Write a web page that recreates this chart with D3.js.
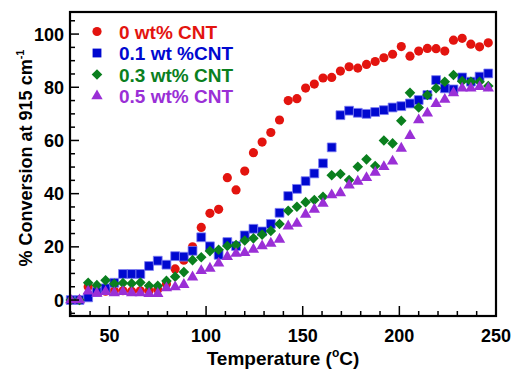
<!DOCTYPE html>
<html>
<head>
<meta charset="utf-8">
<script src="https://d3js.org/d3.v7.min.js"></script>
<style>
  body { margin: 0; background: #fff; }
  svg text { font-family: "Liberation Sans", Arial, sans-serif; font-weight: bold; }
</style>
</head>
<body>
<script>
// temperatures (C)
var temps = [30, 34.5, 39, 43.5, 48, 52.5, 57, 61.5, 66, 70.5, 75, 79.5, 84, 88.5, 93, 97.5,
  102, 106.5, 111, 115.5, 120, 124.5, 129, 133.5, 138, 142.5, 147, 151.5, 156, 160.5,
  165, 169.5, 174, 178.5, 183, 187.5, 192, 196.5, 201, 205.5, 210, 214.5, 219, 223.5,
  228, 232.5, 237, 241.5, 246];

// % conversion for each CNT loading
var cnt0 = [0, 0, 5, 3.8, 3.3, 3.5, 3.5, 3.3, 3.5, 3.5, 4, 6, 11.7, 15, 20, 27.3, 32.6, 34.1, 46, 41.4,
  48.5, 55.4, 59.4, 63, 67.7, 75, 75.7, 79.7, 81.2, 83.5, 83.7, 86.1, 87.7, 87.2, 88.6, 89.7, 91.1, 92.4,
  95.3, 91.7, 93.6, 94.6, 94.5, 93.6, 97.7, 98.4, 96.2, 95.2, 96.7];
var cnt01 = [0, 0, 1, 3, 4.4, 6.5, 9.8, 9.8, 9.8, 12.8, 14.8, 13.3, 16.5, 16.3, 18.5, 23.6, 20.2, 17, 21.8,
  20.3, 24.3, 26.8, 25.8, 28.6, 32.8, 39.1, 41.8, 44.7, 47.6, 51.4, 57.4, 69.5, 71.2, 70.4, 70, 70.7, 71.4,
  72.4, 72.9, 73.9, 75.2, 77.1, 82.7, 79.6, 79.2, 83.7, 82.1, 84, 85.2];
var cnt03 = [0, 0, 6.5, 5.6, 7.4, 6.1, 6.4, 6.2, 6.6, 5.4, 5.4, 7.2, 8.8, 10.5, 15, 16.1, 18.4, 18.9, 20.3,
  20.7, 22.4, 23.2, 24.6, 26, 28.6, 33.6, 35.1, 36.8, 37.6, 38.8, 46.9, 47.4, 45.1, 50.1, 52.9, 50.4, 60,
  58.9, 67.4, 77.9, 72.4, 77.1, 79.6, 82.1, 84.6, 82.3, 82.1, 82.1, 80.5];
var cnt05 = [0, 0, 3.3, 2.5, 3.1, 2.7, 3.1, 2.7, 2.7, 2.4, 2.4, 4.5, 4.9, 5.8, 8.6, 11, 11.9, 13.8, 16.3,
  17.5, 17.8, 19, 20.3, 21.3, 22.8, 27.8, 28.8, 32.2, 34.1, 36.3, 39.5, 40.3, 43.2, 44.6, 46, 48, 50.1,
  52.2, 57, 61.8, 67.7, 70.2, 73.8, 75.4, 77.9, 79.6, 79.6, 80.2, 79.6];

var seriesNames = ["0 wt% CNT", "0.1 wt %CNT", "0.3 wt% CNT", "0.5 wt% CNT"];
var xTicks = [50, 100, 150, 200, 250];
var yTicks = [0, 20, 40, 60, 80, 100];

var width = 513, height = 369;
var margin = {top: 12, right: 17, bottom: 53, left: 70};

var svg = d3.select("body").append("svg")
    .attr("width", width)
    .attr("height", height);

var x = d3.scaleLinear().domain([29.6, 250]).range([margin.left, width - margin.right]);
var y = d3.scaleLinear().domain([-6, 108.3]).range([height - margin.bottom, margin.top]);

var series = [
  {name: seriesNames[0], values: cnt0, color: "#e3140f", shape: d3.symbolCircle, size: 66, rot: 0},
  {name: seriesNames[1], values: cnt01, color: "#0008d0", shape: d3.symbolSquare, size: 78, rot: 0, stroke: "#7d7df2"},
  {name: seriesNames[2], values: cnt03, color: "#0a7f1e", shape: d3.symbolSquare, size: 56, rot: 45},
  {name: seriesNames[3], values: cnt05, color: "#9a2fd6", shape: d3.symbolTriangle, size: 56, rot: 0}
];

// points
series.forEach(function (s) {
  var sym = d3.symbol().type(s.shape).size(s.size);
  svg.append("g").selectAll("path")
      .data(s.values.map(function (v, i) { return [temps[i], v]; }))
    .enter().append("path")
      .attr("d", sym)
      .attr("transform", function (d) {
        return "translate(" + x(d[0]) + "," + y(d[1]) + ") rotate(" + s.rot + ")";
      })
      .attr("fill", s.color)
      .attr("stroke", s.stroke || "none")
      .attr("stroke-width", 0.8);
});

// axes with inward ticks
var xMinor = d3.range(30, 251, 10);
var yMinor = d3.range(-5, 106, 5);

var xAxis = svg.append("g").attr("transform", "translate(0," + (height - margin.bottom) + ")");
xAxis.selectAll("line").data(xMinor).enter().append("line")
    .attr("x1", x).attr("x2", x)
    .attr("y1", 0).attr("y2", function (d) { return d % 50 === 0 ? -10 : -5; })
    .attr("stroke", "#000").attr("stroke-width", 1.5);
xAxis.selectAll("text").data(xTicks).enter().append("text")
    .attr("x", x).attr("y", 26)
    .attr("text-anchor", "middle")
    .attr("font-size", 18)
    .text(function (d) { return d; });

var yAxis = svg.append("g").attr("transform", "translate(" + margin.left + ",0)");
yAxis.selectAll("line").data(yMinor).enter().append("line")
    .attr("y1", y).attr("y2", y)
    .attr("x1", 0).attr("x2", function (d) { return d % 20 === 0 ? 9 : 5; })
    .attr("stroke", "#000").attr("stroke-width", 1.5);
yAxis.selectAll("text").data(yTicks).enter().append("text")
    .attr("x", -6).attr("y", function (d) { return y(d) + 6.5; })
    .attr("text-anchor", "end")
    .attr("font-size", 18)
    .text(function (d) { return d; });

// frame
svg.append("rect")
    .attr("x", margin.left).attr("y", margin.top)
    .attr("width", width - margin.left - margin.right)
    .attr("height", height - margin.top - margin.bottom)
    .attr("fill", "none").attr("stroke", "#000").attr("stroke-width", 2.2);

// axis titles
var xt = svg.append("text")
    .attr("x", (margin.left + width - margin.right) / 2)
    .attr("y", 365)
    .attr("text-anchor", "middle")
    .attr("font-size", 19);
xt.append("tspan").text("Temperature (");
xt.append("tspan").attr("font-size", 12).attr("dy", -8).text("o");
xt.append("tspan").attr("dy", 8).text("C)");

var yt = svg.append("text")
    .attr("transform", "translate(32," + 158 + ") rotate(-90)")
    .attr("text-anchor", "middle")
    .attr("font-size", 18);
yt.append("tspan").text("% Conversion at 915 cm");
yt.append("tspan").attr("font-size", 11).attr("dy", -8).text("-1");

// legend
var legend = svg.append("g");
series.forEach(function (s, i) {
  var ly = 31.5 + i * 21.5;
  legend.append("path")
      .attr("d", d3.symbol().type(s.shape).size(s.size)())
      .attr("transform", "translate(97," + ly + ") rotate(" + s.rot + ")")
      .attr("fill", s.color);
  legend.append("text")
      .attr("x", 119).attr("y", ly + 7)
      .attr("font-size", 19)
      .attr("fill", s.color)
      .text(s.name);
});
</script>
</body>
</html>
